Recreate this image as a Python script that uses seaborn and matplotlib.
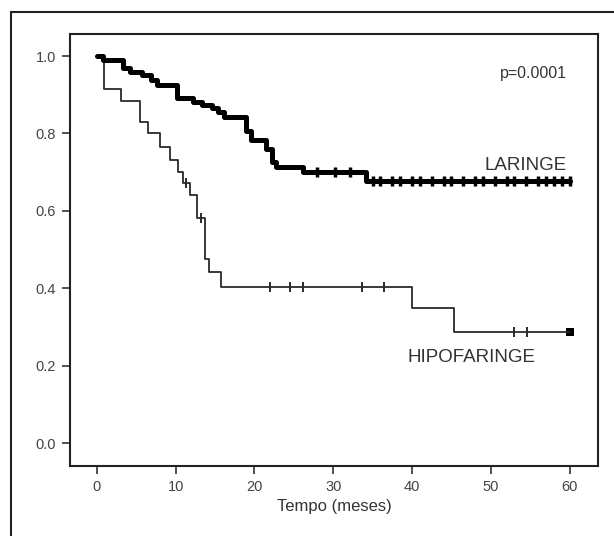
import matplotlib
matplotlib.use("Agg")
import matplotlib.pyplot as plt
import seaborn as sns
import pandas as pd
from matplotlib.patches import Rectangle

# ---- data ----
lar_time = [0, 0.8, 3.3, 4.2, 5.7, 6.9, 7.6, 10.2, 12.2, 13.3, 14.6, 15.4, 16.2,
            18.9, 19.6, 21.5, 22.2, 22.8, 26.2, 34.2, 60.0]
lar_surv = [1.0, 0.99, 0.968, 0.96, 0.951, 0.938, 0.925, 0.891, 0.882, 0.873, 0.865,
            0.856, 0.843, 0.806, 0.783, 0.761, 0.727, 0.714, 0.70, 0.677, 0.677]
lar_cens_time = [28.0, 30.2, 32.1, 35.0, 36.0, 37.5, 38.5, 40.0, 41.0, 42.5, 44.0, 45.0,
                 46.5, 48.0, 49.0, 50.5, 52.0, 53.0, 54.5, 56.0, 57.0, 58.0, 59.0, 60.0]
lar_cens_surv = [0.70, 0.70, 0.70] + [0.677] * 21

hip_time = [0, 0.9, 3.1, 5.5, 6.5, 8.0, 9.3, 10.3, 11.0, 11.8, 12.7, 13.7, 14.3,
            15.8, 40.0, 45.3, 60.0]
hip_surv = [1.0, 0.914, 0.884, 0.830, 0.800, 0.766, 0.731, 0.701, 0.671, 0.641,
            0.581, 0.477, 0.443, 0.404, 0.348, 0.288, 0.288]
hip_cens_time = [11.3, 13.2, 22.0, 24.5, 26.2, 33.6, 36.5, 52.9, 54.6]
hip_cens_surv = [0.671, 0.581, 0.404, 0.404, 0.404, 0.404, 0.404, 0.288, 0.288]

x_ticks = [0, 10, 20, 30, 40, 50, 60]
y_ticks = [0.0, 0.2, 0.4, 0.6, 0.8, 1.0]
y_ticklabels = ["0.0", "0.2", "0.4", "0.6", "0.8", "1.0"]
x_label = "Tempo (meses)"
p_text = "p=0.0001"
label_lar = "LARINGE"
label_hip = "HIPOFARINGE"

# ---- plot ----
sns.set_style("white")
plt.rcParams["font.family"] = ["Liberation Sans", "DejaVu Sans"]

fig = plt.figure(figsize=(6.14, 5.36), dpi=100)
ax = fig.add_axes([70 / 614, 70 / 536, 528 / 614, 432 / 536])

lar = pd.DataFrame({"t": lar_time, "s": lar_surv})
hip = pd.DataFrame({"t": hip_time, "s": hip_surv})
lar_c = pd.DataFrame({"t": lar_cens_time, "s": lar_cens_surv})
hip_c = pd.DataFrame({"t": hip_cens_time, "s": hip_cens_surv})

sns.lineplot(data=hip, x="t", y="s", ax=ax, drawstyle="steps-post", estimator=None,
             sort=False, color="#2a2a2a", linewidth=1.3)
sns.lineplot(data=lar, x="t", y="s", ax=ax, drawstyle="steps-post", estimator=None,
             sort=False, color="black", linewidth=3.6)
sns.scatterplot(data=hip_c, x="t", y="s", ax=ax, marker="|", s=45, color="#2a2a2a",
                linewidth=1.4)
sns.scatterplot(data=lar_c, x="t", y="s", ax=ax, marker="|", s=60, color="black",
                linewidth=2.5)
sns.scatterplot(x=[hip_time[-1]], y=[hip_surv[-1]], ax=ax, marker="s", s=30,
                color="black", linewidth=0)

ax.set_xlim(-3.4, 63.6)
ax.set_ylim(-0.059, 1.057)
ax.set_xticks(x_ticks)
ax.set_yticks(y_ticks)
ax.set_yticklabels(y_ticklabels)
ax.set_xlabel(x_label, fontsize=12, color="#333333", labelpad=4)
ax.set_ylabel("")
ax.tick_params(axis="both", direction="out", length=6, width=1.2, color="#333333",
               labelsize=10.5, labelcolor="#444444", bottom=True, left=True, pad=4)
for sp in ax.spines.values():
    sp.set_visible(True)
    sp.set_color("#222222")
    sp.set_linewidth(1.5)

ax.text(59.6, 0.956, p_text, ha="right", va="center", fontsize=11.5, color="#333333")
ax.text(59.6, 0.718, label_lar, ha="right", va="center", fontsize=13.5, color="#333333")
ax.text(47.6, 0.22, label_hip, ha="center", va="center", fontsize=13.5, color="#333333")

# outer frame of the figure panel
fig.patches.append(Rectangle((11 / 614, -0.1), 1.2, (536 - 12) / 536 + 0.1,
                             transform=fig.transFigure, fill=False,
                             edgecolor="#222222", linewidth=1.5))

fig.savefig("out.png", dpi=100)
